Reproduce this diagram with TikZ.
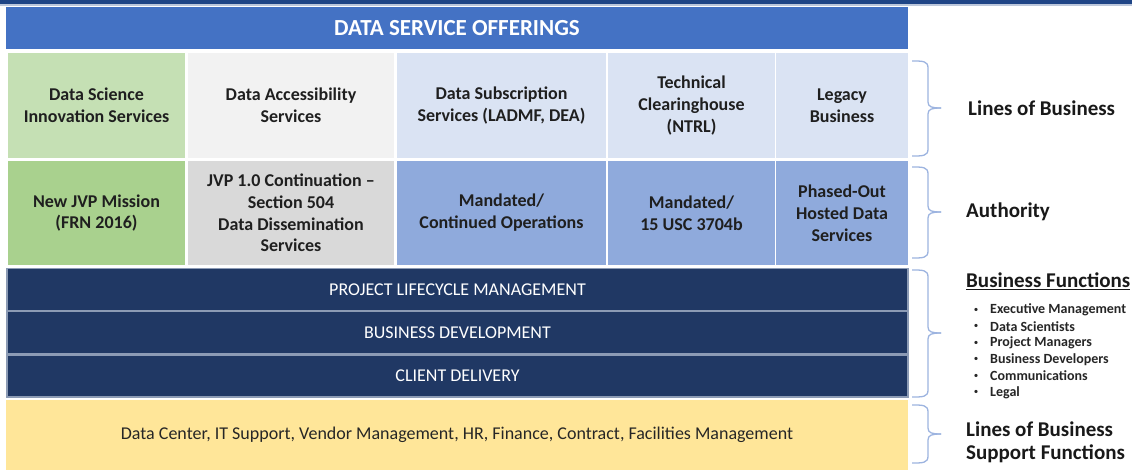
\documentclass[tikz,border=0pt]{standalone}
\usepackage{fontspec}
\setmainfont{Carlito}
\usetikzlibrary{positioning}
\definecolor{titleblue}{HTML}{4472C4}
\definecolor{topnavy}{HTML}{1F4586}
\definecolor{navy}{HTML}{203864}
\definecolor{lgreen}{HTML}{C5E0B4}
\definecolor{mgreen}{HTML}{A9D18E}
\definecolor{lgrey}{HTML}{F2F2F2}
\definecolor{mgrey}{HTML}{D9D9D9}
\definecolor{lblue}{HTML}{DAE3F3}
\definecolor{mblue}{HTML}{8FAADC}
\definecolor{yell}{HTML}{FFE699}
\definecolor{bracec}{HTML}{9DB4E0}
\definecolor{sepc}{HTML}{8C9BB5}
\tikzset{
  cellbox/.style={draw=white, line width=1.5pt, inner sep=0pt, align=center,
    font=\fontsize{18}{21.8}\selectfont\bfseries, text=black!88},
  bandbox/.style={draw=sepc, line width=1.2pt, fill=navy, inner sep=0pt,
    font=\fontsize{18}{20}\selectfont, text=white, minimum width=901pt, minimum height=42pt},
  bracestyle/.style={draw=bracec, line width=1.3pt},
  sidelabel/.style={anchor=west, inner sep=0pt, font=\fontsize{21}{23}\selectfont\bfseries, text=black!90},
  bulletitem/.style={anchor=west, inner sep=0pt, font=\fontsize{14}{16}\selectfont\bfseries, text=black!85},
}
\newcommand{\mybrace}[4]{% x, top, mid, bottom
  \draw[bracestyle] (#1,#2) .. controls (#1+11,#2) and (#1+16,#2) .. (#1+16,#2+7)
    -- (#1+16,#3-6) .. controls (#1+16,#3-1) and (#1+20,#3) .. (#1+29,#3);
  \draw[bracestyle] (#1+29,#3) .. controls (#1+20,#3) and (#1+16,#3+1) .. (#1+16,#3+6)
    -- (#1+16,#4-7) .. controls (#1+16,#4) and (#1+11,#4) .. (#1,#4);
}
\begin{document}
\begin{tikzpicture}[x=1pt,y=-1pt]
\useasboundingbox (0,0) rectangle (1132,470);
\fill[white] (0,0) rectangle (1132,470);
% top stripe
\fill[topnavy] (0,0) rectangle (1132,4.5);
\fill[topnavy!30] (0,4.5) rectangle (1132,6);
% title
\node[fill=titleblue, minimum width=902pt, minimum height=42pt, inner sep=0pt,
  text=white, font=\fontsize{23}{26}\selectfont\bfseries] (title) at (457,28) {DATA SERVICE OFFERINGS};
% row 1
\node[cellbox, fill=lgreen, minimum width=179pt, minimum height=106pt] (r1c1) at (96.5,105.5) {Data Science\\Innovation Services};
\node[cellbox, fill=lgrey, minimum width=208pt, minimum height=106pt] (r1c2) at (291,105.5) {Data Accessibility\\Services};
\node[cellbox, fill=lblue, minimum width=211pt, minimum height=106pt] (r1c3) at (501.5,105.5) {Data Subscription\\Services (LADMF, DEA)};
\node[cellbox, fill=lblue, minimum width=168pt, minimum height=106pt] (r1c4) at (691.5,105.5) {Technical\\Clearinghouse\\(NTRL)};
\node[cellbox, fill=lblue, minimum width=133pt, minimum height=106pt] (r1c5) at (842,105.5) {Legacy\\Business};
% row 2
\node[cellbox, fill=mgreen, minimum width=179pt, minimum height=106pt] (r2c1) at (96.5,213) {New JVP Mission\\(FRN 2016)};
\node[cellbox, fill=mgrey, minimum width=208pt, minimum height=106pt] (r2c2) at (291,213) {JVP 1.0 Continuation --\\Section 504\\Data Dissemination\\Services};
\node[cellbox, fill=mblue, minimum width=211pt, minimum height=106pt] (r2c3) at (501.5,213) {Mandated/\\Continued Operations};
\node[cellbox, fill=mblue, minimum width=168pt, minimum height=106pt] (r2c4) at (691.5,213) {Mandated/\\15 USC 3704b};
\node[cellbox, fill=mblue, minimum width=133pt, minimum height=106pt] (r2c5) at (842,213) {Phased-Out\\Hosted Data\\Services};
% dark bands
\node[bandbox] (plm) at (457.5,289.5) {PROJECT LIFECYCLE MANAGEMENT};
\node[bandbox] (bd) at (457.5,332.5) {BUSINESS DEVELOPMENT};
\node[bandbox] (cd) at (457.5,376) {CLIENT DELIVERY};
% yellow
\node[fill=yell, minimum width=902pt, minimum height=70pt, inner sep=0pt,
  font=\fontsize{18}{20}\selectfont, text=black!85] (supp) at (457,434.5)
  {Data Center, IT Support, Vendor Management, HR, Finance, Contract, Facilities Management};
% braces
\mybrace{912}{61}{108}{156}
\mybrace{912}{167}{212}{258}
\mybrace{912}{270}{333}{397}
\mybrace{912}{405}{434}{463}
% labels
\node[sidelabel] (lob) at (968,108) {Lines of Business};
\node[sidelabel] (auth) at (966,212) {Authority};
\node[sidelabel] (bf) at (966,281) {\underline{Business Functions}};
\node[bulletitem] (b1) at (990,310) {Executive Management};
\node[bulletitem] (b2) at (990,326.5) {Data Scientists};
\node[bulletitem] (b3) at (990,343) {Project Managers};
\node[bulletitem] (b4) at (990,359.5) {Business Developers};
\node[bulletitem] (b5) at (990,376) {Communications};
\node[bulletitem] (b6) at (990,392.5) {Legal};
\foreach \i in {1,...,6} {
  \node[anchor=center, inner sep=0pt, font=\fontsize{9}{10}\selectfont, text=black!85] (dot\i) at (976,{310+(\i-1)*16.5}) {•};
}
\node[sidelabel, align=left, font=\fontsize{21}{23}\selectfont\bfseries] (lobs) at (966,442.5) {Lines of Business\\Support Functions};
\end{tikzpicture}
\end{document}
